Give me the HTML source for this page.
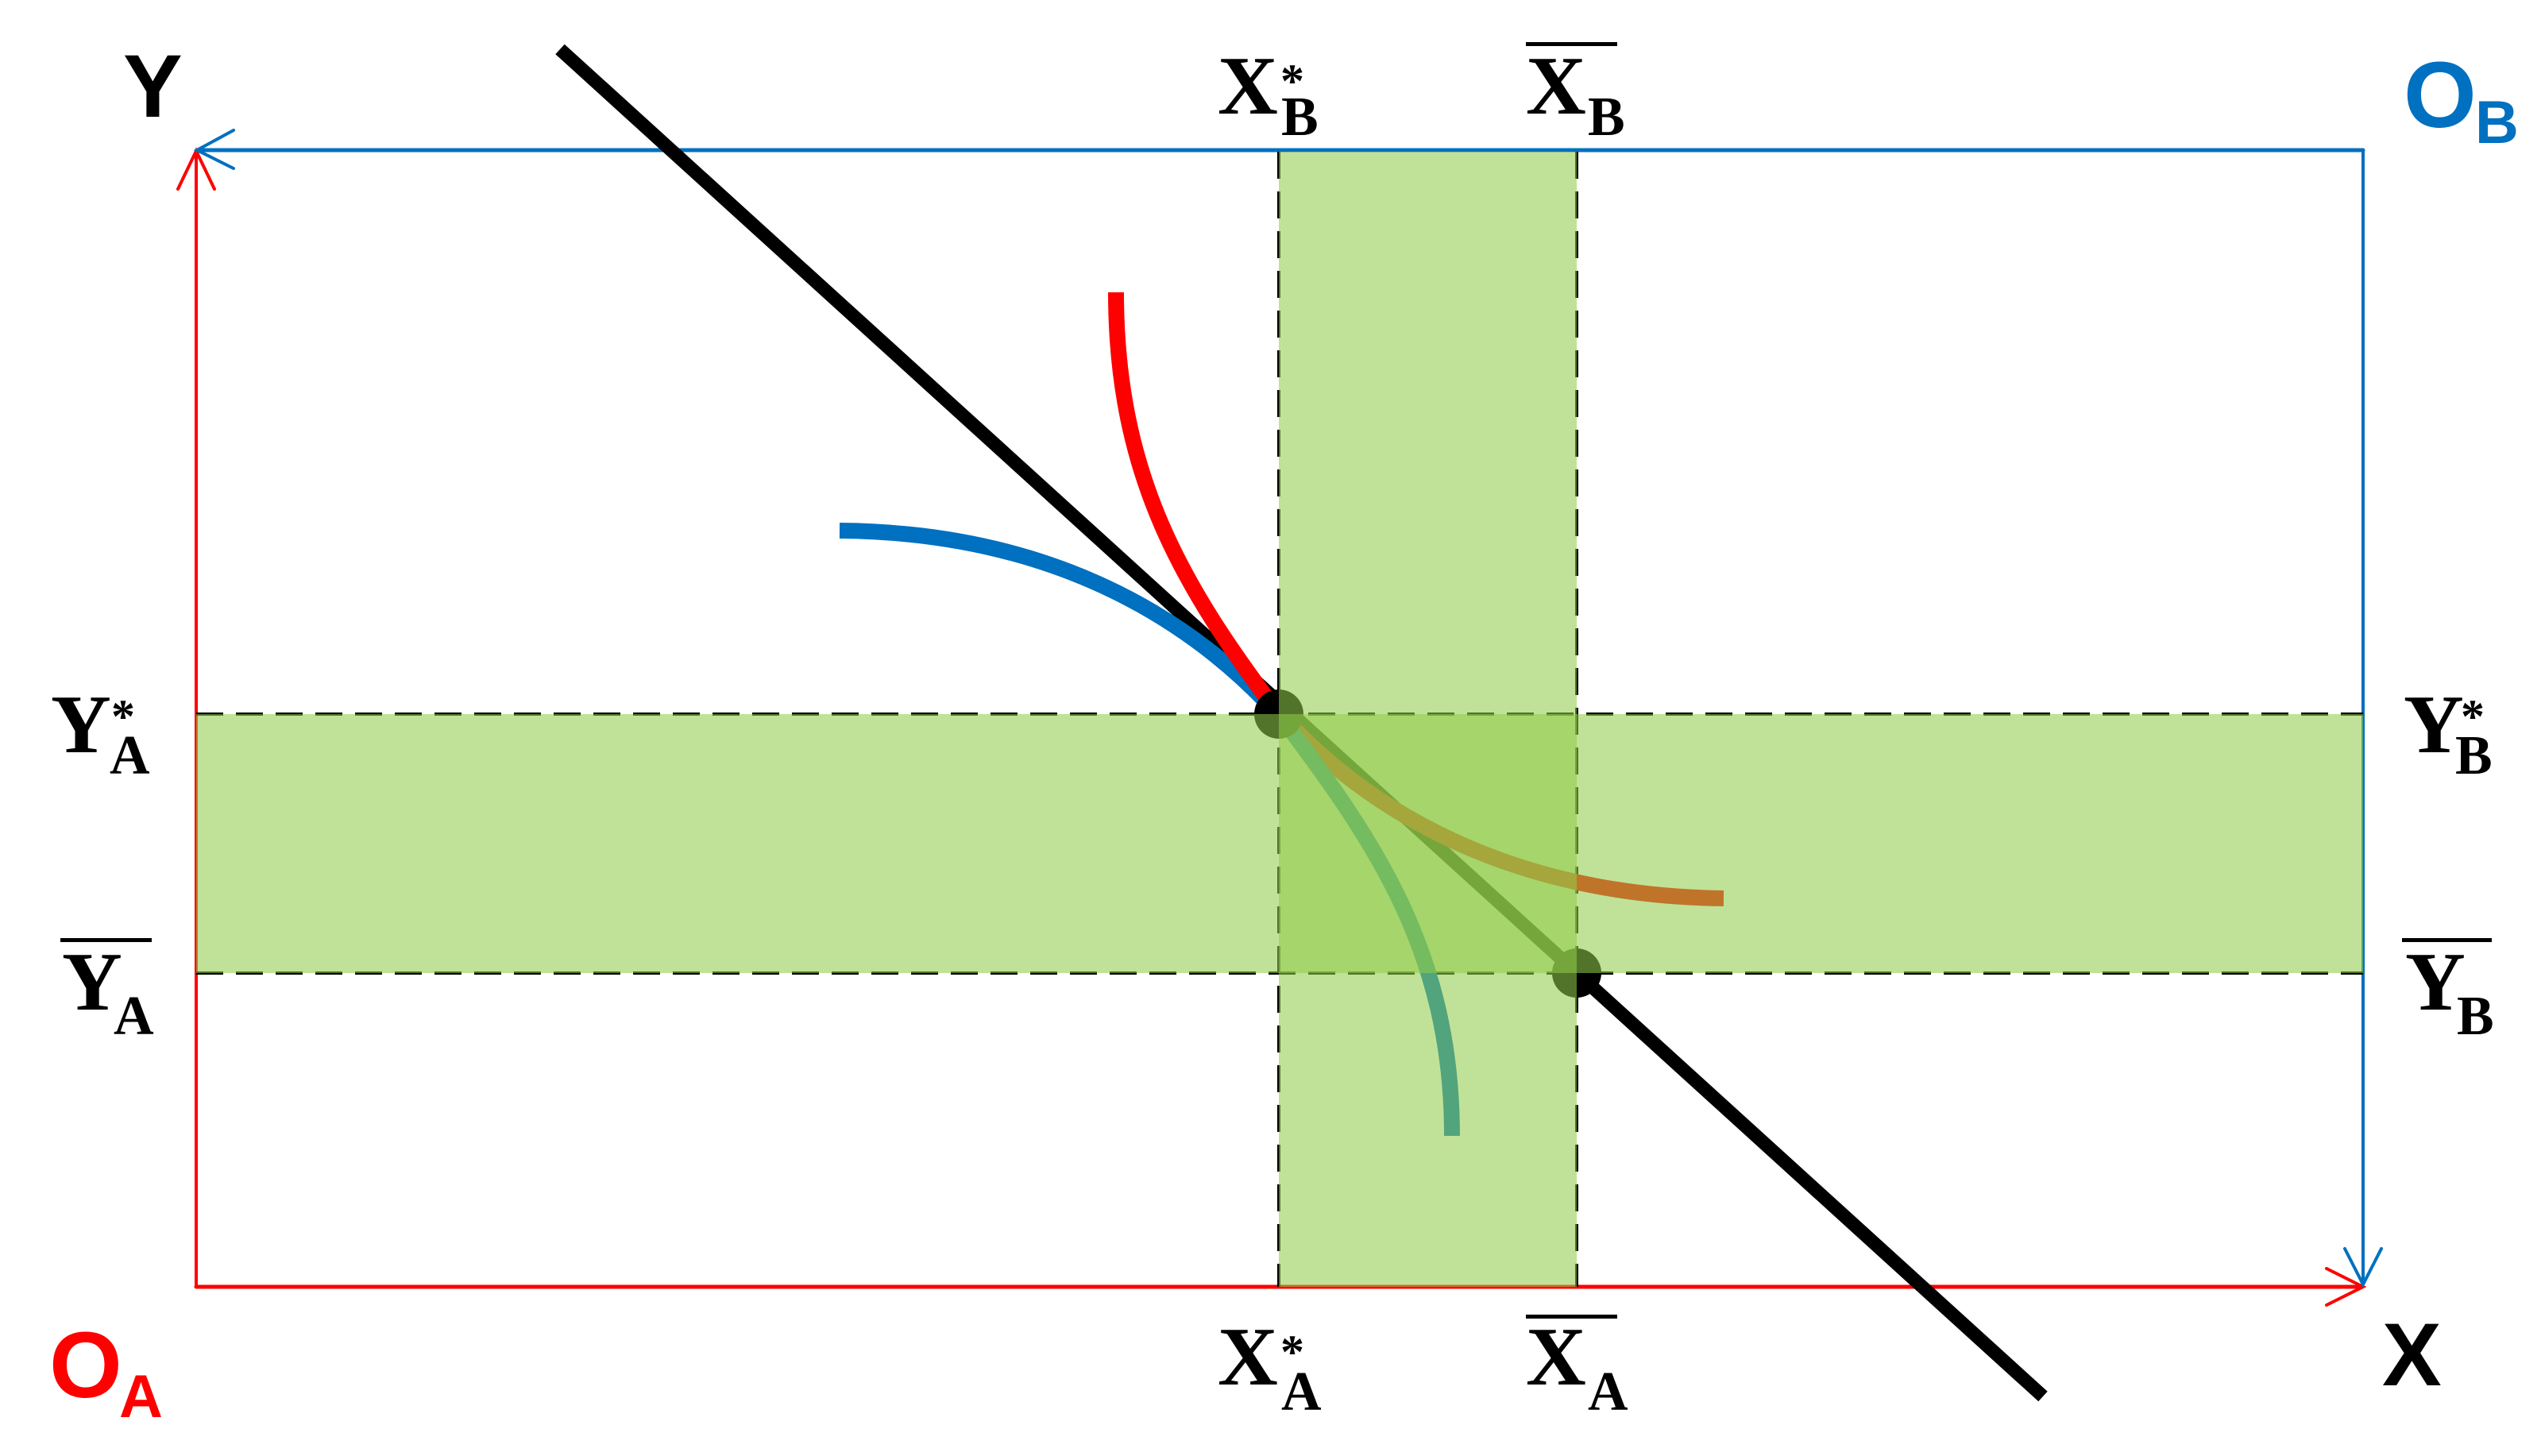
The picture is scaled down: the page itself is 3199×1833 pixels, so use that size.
<!DOCTYPE html>
<html><head><meta charset="utf-8"><style>html,body{margin:0;padding:0;background:#fff}svg{display:block}</style></head><body>
<svg width="3199" height="1833" viewBox="0 0 3199 1833" xmlns="http://www.w3.org/2000/svg">
<rect width="3199" height="1833" fill="#fff"/>
<!-- axes -->
<g stroke-linecap="round" fill="none">
<line x1="247" y1="1620" x2="247" y2="193" stroke="#FF0000" stroke-width="4"/>
<polyline points="224,1599 247,189 270,1599" stroke="none"/>
<polyline points="224,238 247,190 270,238" stroke="#FF0000" stroke-width="4"/>
<line x1="247" y1="1620" x2="2973" y2="1620" stroke="#FF0000" stroke-width="5"/>
<polyline points="2929,1597 2975,1620 2929,1643" stroke="#FF0000" stroke-width="4"/>
<line x1="2975" y1="189" x2="249" y2="189" stroke="#0070C0" stroke-width="5"/>
<polyline points="294,164 248,189 294,212" stroke="#0070C0" stroke-width="4"/>
<line x1="2975" y1="189" x2="2975" y2="1614" stroke="#0070C0" stroke-width="4"/>
<polyline points="2952,1572 2975,1617 2998,1572" stroke="#0070C0" stroke-width="4"/>
</g>
<!-- dashed lines -->
<g stroke="#000" stroke-width="4" stroke-dasharray="34,16">
<line x1="1610" y1="191" x2="1610" y2="1620"/>
<line x1="1985" y1="191" x2="1985" y2="1620"/>
<line x1="247" y1="899" x2="2975" y2="899"/>
<line x1="247" y1="1225" x2="2975" y2="1225"/>
</g>
<!-- budget line -->
<line x1="705" y1="62" x2="2572" y2="1758" stroke="#000" stroke-width="17"/>
<!-- curves -->
<g fill="none" stroke-width="20">
<path d="M1057,668 C1300,670 1480,760 1605,895" stroke="#0070C0"/>
<path d="M1405,368 C1405,600 1490,740 1610,899" stroke="#FF0000"/>
<path d="M2170,1131 C1925,1128 1740,1038 1615,903" stroke="#FF0000"/>
<path d="M1828,1430 C1828,1198 1730,1058 1610,899" stroke="#0070C0"/>
</g>
<circle cx="1610" cy="899" r="31" fill="#000"/>
<circle cx="1985" cy="1225" r="31" fill="#000"/>
<!-- bands -->
<rect x="247" y="899" width="2728" height="326" fill="rgb(145,204,74)" fill-opacity="0.57"/>
<rect x="1610" y="191" width="375" height="1429" fill="rgb(145,204,74)" fill-opacity="0.57"/>
<!-- axis labels -->
<g font-family="Liberation Sans, sans-serif" font-weight="bold">
<text x="155" y="147" font-size="112" fill="#000">Y</text>
<text x="2999" y="1744" font-size="112" fill="#000">X</text>
<text x="62" y="1759" font-size="118" fill="#FF0000">O</text>
<text x="150" y="1784" font-size="76" fill="#FF0000">A</text>
<text x="3026" y="160" font-size="118" fill="#0070C0">O</text>
<text x="3116" y="180" font-size="76" fill="#0070C0">B</text>
</g>
<g font-family="Liberation Serif, serif" font-weight="bold" fill="#000">
<!-- X*_B -->
<text x="1533" y="143" font-size="105">X</text>
<text x="1612" y="122" font-size="60">*</text>
<text x="1613" y="170" font-size="70">B</text>
<!-- Xbar_B -->
<rect x="1921" y="53" width="115" height="5"/>
<text x="1921" y="143" font-size="105">X</text>
<text x="1999" y="170" font-size="70">B</text>
<!-- X*_A -->
<text x="1533" y="1743" font-size="105">X</text>
<text x="1612" y="1722" font-size="60">*</text>
<text x="1613" y="1775" font-size="70">A</text>
<!-- Xbar_A -->
<rect x="1921" y="1655" width="115" height="5"/>
<text x="1921" y="1743" font-size="105">X</text>
<text x="1999" y="1775" font-size="70">A</text>
<!-- Y*_A -->
<text x="64" y="947" font-size="105">Y</text>
<text x="140" y="922" font-size="60">*</text>
<text x="138" y="974" font-size="70">A</text>
<!-- Ybar_A -->
<rect x="76" y="1181" width="115" height="5"/>
<text x="78" y="1271" font-size="105">Y</text>
<text x="143" y="1302" font-size="70">A</text>
<!-- Y*_B -->
<text x="3026" y="947" font-size="105">Y</text>
<text x="3098" y="922" font-size="60">*</text>
<text x="3091" y="974" font-size="70">B</text>
<!-- Ybar_B -->
<rect x="3024" y="1181" width="113" height="5"/>
<text x="3028" y="1271" font-size="105">Y</text>
<text x="3093" y="1302" font-size="70">B</text>
</g>
</svg>
</body></html>
